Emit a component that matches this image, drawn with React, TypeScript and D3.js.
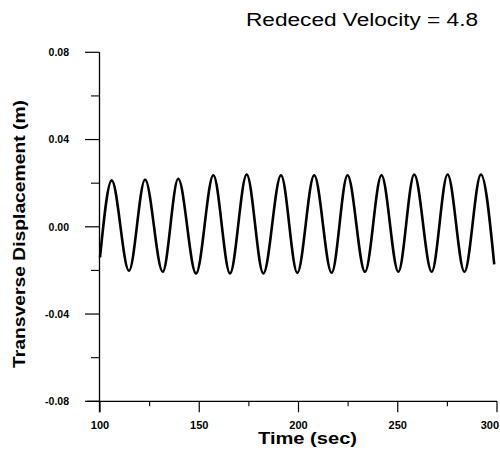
import React from "react";
import * as d3 from "d3";

// Extrema of the displacement trace (time in sec, displacement in m)
const traceTimes = [
  100, 105.9, 114.6, 122.7, 131.6, 139.4, 148.4, 157.1, 165.5, 173.9, 182.3, 191.2,
  199.4, 207.9, 216.7, 224.7, 233.5, 241.8, 250.3, 258.3, 267.1, 275.1, 283.6, 291.9, 298.6,
];
const traceValues = [
  -0.014, 0.0213, -0.0202, 0.0217, -0.0206, 0.022, -0.0214, 0.0236, -0.0214, 0.024, -0.0214, 0.0236,
  -0.0211, 0.0236, -0.0211, 0.0236, -0.0206, 0.0236, -0.0206, 0.024, -0.0206, 0.024, -0.0206, 0.024, -0.0172,
];

const xMajorTicks = [100, 150, 200, 250, 300];
const xMinorTicks = [125, 175, 225, 275];
const yMajorTicks = [0.08, 0.04, 0.0, -0.04, -0.08];
const yMinorTicks = [0.06, 0.02, -0.02, -0.06];

const titleText = "Redeced Velocity = 4.8";
const xLabel = "Time (sec)";
const yLabel = "Transverse Displacement (m)";

const FONT = "'Liberation Sans', Arial, Helvetica, sans-serif";

export default function App() {
  const x = d3.scaleLinear().domain([100, 300]).range([100, 497]);
  const y = d3.scaleLinear().domain([-0.08, 0.08]).range([401.3, 52.3]);

  const pts = traceTimes.map((t, i) => [t, traceValues[i]] as [number, number]);
  const line = d3
    .line<[number, number]>()
    .x((d) => x(d[0]))
    .y((d) => y(d[1]))
    .curve(d3.curveMonotoneX);

  const axisX = x(100) - 0.5;
  const axisY = y(-0.08);
  const lastTick = xMajorTicks[xMajorTicks.length - 1];

  return (
    <svg
      width={500}
      height={455}
      style={{ position: "absolute", left: 0, top: 0, background: "#fff" }}
      fontFamily={FONT}
    >
      <rect x={0} y={0} width={500} height={455} fill="#fff" />
      {/* title */}
      <text x={246} y={25.5} fontSize={18} textLength={232} lengthAdjust="spacingAndGlyphs" fill="#000">
        {titleText}
      </text>

      {/* y axis line */}
      <line x1={axisX} x2={axisX} y1={y(0.08)} y2={axisY + 11} stroke="#000" strokeWidth={1.3} />
      {/* x axis line */}
      <line x1={87} x2={x(300)} y1={axisY} y2={axisY} stroke="#000" strokeWidth={1.3} />

      {/* y ticks */}
      {yMajorTicks.map((v) => (
        <g key={"ym" + v}>
          <line x1={85} x2={axisX} y1={y(v)} y2={y(v)} stroke="#000" strokeWidth={1.2} />
          <text
            x={69}
            y={y(v) + 3.8}
            fontSize={10.5}
            fontWeight="bold"
            textAnchor="end"
            fill="#000"
          >
            {v.toFixed(2)}
          </text>
        </g>
      ))}
      {yMinorTicks.map((v) => (
        <line key={"yn" + v} x1={91} x2={axisX} y1={y(v)} y2={y(v)} stroke="#000" strokeWidth={1.1} />
      ))}

      {/* x ticks */}
      {xMajorTicks.map((v) => (
        <g key={"xm" + v}>
          <line x1={x(v)} x2={x(v)} y1={axisY} y2={axisY + 11} stroke="#000" strokeWidth={1.2} />
          <text
            x={v === lastTick ? 499 : x(v)}
            y={429}
            fontSize={11}
            fontWeight="bold"
            textAnchor={v === lastTick ? "end" : "middle"}
            fill="#000"
          >
            {String(v)}
          </text>
        </g>
      ))}
      {xMinorTicks.map((v) => (
        <line key={"xn" + v} x1={x(v)} x2={x(v)} y1={axisY} y2={axisY + 5} stroke="#000" strokeWidth={1.1} />
      ))}

      {/* axis labels */}
      <text
        x={258}
        y={444}
        fontSize={16}
        fontWeight="bold"
        textLength={99}
        lengthAdjust="spacingAndGlyphs"
        fill="#000"
      >
        {xLabel}
      </text>
      <text
        transform={`translate(25,368) rotate(-90)`}
        x={0}
        y={0}
        fontSize={17}
        fontWeight="bold"
        textLength={268}
        lengthAdjust="spacingAndGlyphs"
        fill="#000"
      >
        {yLabel}
      </text>

      {/* trace */}
      <path d={line(pts) ?? ""} fill="none" stroke="#000" strokeWidth={2.6} strokeLinejoin="round" />
    </svg>
  );
}
